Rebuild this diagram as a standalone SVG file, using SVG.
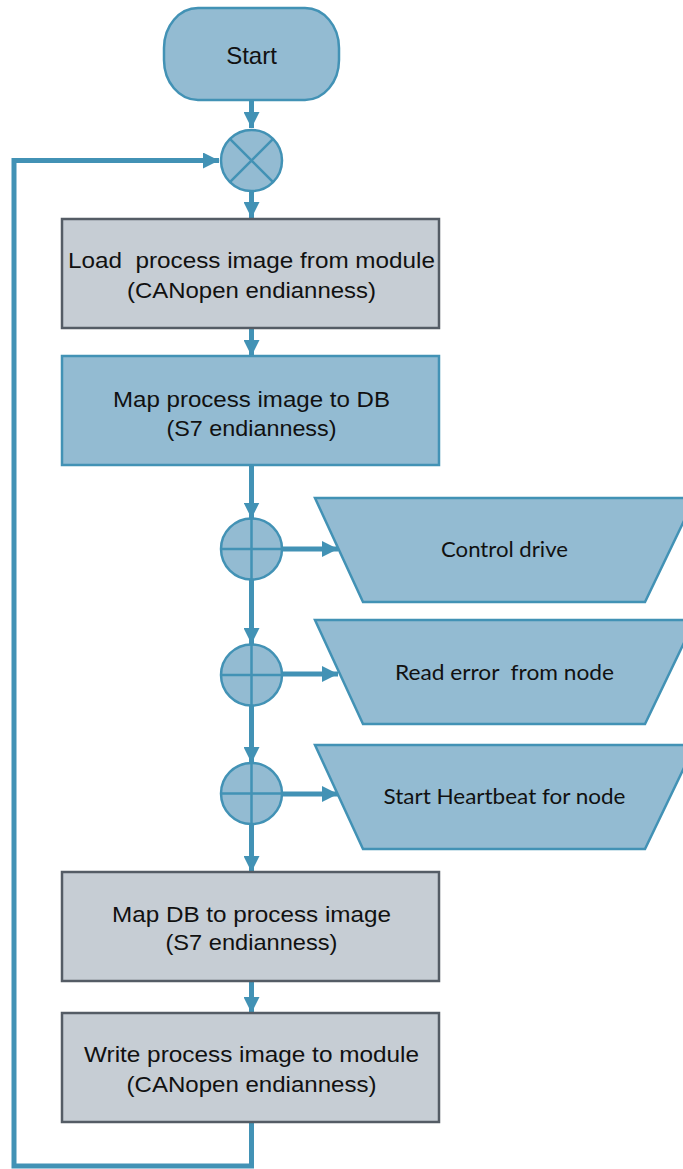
<svg xmlns="http://www.w3.org/2000/svg" width="683" height="1169" viewBox="0 0 683 1169">
  <defs>
    <style>
      .blue { fill: #93bbd2; stroke: #4292b5; stroke-width: 2.5; }
      .gray { fill: #c6cdd4; stroke: #545c65; stroke-width: 2.5; }
      .junction { fill: #93bbd2; stroke: #4292b5; stroke-width: 2.5; }
      .cross { stroke: #4292b5; stroke-width: 2.5; fill: none; }
      .flow { stroke: #4292b5; stroke-width: 5; fill: none; }
      text { white-space: pre; }
      .lbl { font-family: "Liberation Sans", Arial, sans-serif; font-size: 22px; fill: #111; text-anchor: middle; }
      .act { font-family: Lato, "Open Sans", sans-serif; font-size: 22px; fill: #111; text-anchor: middle; }
    </style>
    <marker id="arrow" markerUnits="userSpaceOnUse" markerWidth="16" markerHeight="16" viewBox="0 0 16 16" refX="16" refY="8" orient="auto">
      <path d="M0,0 L16,8 L0,16 Z" fill="#4292b5"/>
    </marker>
  </defs>

  <!-- connectors -->
  <g id="connectors">
    <path class="flow" d="M251.5,100 V128" marker-end="url(#arrow)"/>
    <path class="flow" d="M251.5,191 V218" marker-end="url(#arrow)"/>
    <path class="flow" d="M251.5,328 V356" marker-end="url(#arrow)"/>
    <path class="flow" d="M251.5,465 V518.5" marker-end="url(#arrow)"/>
    <path class="flow" d="M251.5,580 V644" marker-end="url(#arrow)"/>
    <path class="flow" d="M251.5,706 V763" marker-end="url(#arrow)"/>
    <path class="flow" d="M251.5,824 V872" marker-end="url(#arrow)"/>
    <path class="flow" d="M251.5,981 V1013" marker-end="url(#arrow)"/>
    <path class="flow" d="M282,549 H338" marker-end="url(#arrow)"/>
    <path class="flow" d="M282,674 H338" marker-end="url(#arrow)"/>
    <path class="flow" d="M282,794 H338" marker-end="url(#arrow)"/>
    <!-- loop back to the merge point -->
    <path class="flow" d="M251.5,1122 V1166 H14 V160.5 H219" marker-end="url(#arrow)"/>
  </g>

  <g id="start">
    <rect class="blue" x="164" y="8" width="175" height="92" rx="34" ry="40"/>
    <text class="lbl" x="251.5" y="64" style="font-size:24px">Start</text>
  </g>

  <g id="merge">
    <circle class="junction" cx="251.5" cy="160.5" r="30.5"/>
    <path class="cross" d="M229.9,138.9 L273.1,182.1 M273.1,138.9 L229.9,182.1"/>
  </g>

  <g id="load-image">
    <rect class="gray" x="62" y="219" width="377" height="109"/>
    <text class="lbl" x="251.5" y="268" textLength="367" lengthAdjust="spacingAndGlyphs" xml:space="preserve">Load  process image from module</text>
    <text class="lbl" x="251.5" y="297.5" textLength="249" lengthAdjust="spacingAndGlyphs">(CANopen endianness)</text>
  </g>

  <g id="map-to-db">
    <rect class="blue" x="62" y="356" width="377" height="109"/>
    <text class="lbl" x="251.5" y="406.5" textLength="277" lengthAdjust="spacingAndGlyphs">Map process image to DB</text>
    <text class="lbl" x="251.5" y="435.5" textLength="170" lengthAdjust="spacingAndGlyphs">(S7 endianness)</text>
  </g>

  <g id="fork-1">
    <circle class="junction" cx="251.5" cy="549" r="30.5"/>
    <path class="cross" d="M221,549 H282 M251.5,518.5 V579.5"/>
  </g>
  <g id="control-drive">
    <path class="blue" d="M315,498 L695,498 L645,602 L363,602 Z"/>
    <text class="act" x="504.5" y="557" textLength="127" lengthAdjust="spacingAndGlyphs">Control drive</text>
  </g>

  <g id="fork-2">
    <circle class="junction" cx="251.5" cy="675" r="30.5"/>
    <path class="cross" d="M221,675 H282 M251.5,644.5 V705.5"/>
  </g>
  <g id="read-error">
    <path class="blue" d="M315,620 L695,620 L645,724 L363,724 Z"/>
    <text class="act" x="504.5" y="680" textLength="219" lengthAdjust="spacingAndGlyphs" xml:space="preserve">Read error  from node</text>
  </g>

  <g id="fork-3">
    <circle class="junction" cx="251.5" cy="793.5" r="30.5"/>
    <path class="cross" d="M221,793.5 H282 M251.5,763 V824"/>
  </g>
  <g id="start-heartbeat">
    <path class="blue" d="M315,745 L695,745 L645,849 L363,849 Z"/>
    <text class="act" x="504.5" y="804" textLength="242" lengthAdjust="spacingAndGlyphs">Start Heartbeat for node</text>
  </g>

  <g id="map-to-image">
    <rect class="gray" x="62" y="872" width="377" height="109"/>
    <text class="lbl" x="251.5" y="921.5" textLength="279" lengthAdjust="spacingAndGlyphs">Map DB to process image</text>
    <text class="lbl" x="251.5" y="950" textLength="172" lengthAdjust="spacingAndGlyphs">(S7 endianness)</text>
  </g>

  <g id="write-image">
    <rect class="gray" x="62" y="1013" width="377" height="109"/>
    <text class="lbl" x="251.5" y="1062" textLength="335" lengthAdjust="spacingAndGlyphs">Write process image to module</text>
    <text class="lbl" x="251.5" y="1091.5" textLength="250" lengthAdjust="spacingAndGlyphs">(CANopen endianness)</text>
  </g>
</svg>
